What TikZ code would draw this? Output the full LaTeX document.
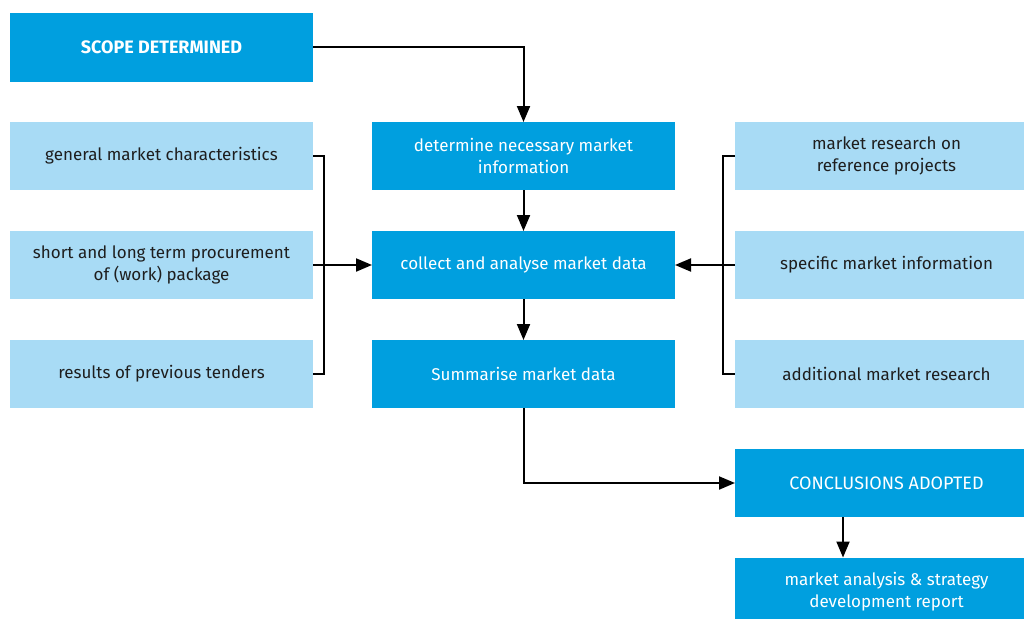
\documentclass[tikz,border=0pt]{standalone}
\usepackage{fontspec}
\setmainfont{Fira Sans}
\usetikzlibrary{arrows.meta}
\definecolor{dblue}{RGB}{0,159,223}
\definecolor{lblue}{RGB}{168,219,245}
\definecolor{dtext}{RGB}{30,30,30}
\tikzset{
  boxbase/.style={minimum width=303pt, minimum height=68pt, inner sep=0pt, outer sep=0pt, align=center, font=\fontsize{17}{22}\selectfont},
  darkbox/.style={boxbase, fill=dblue, text=white},
  lightbox/.style={boxbase, fill=lblue, text=dtext},
  conn/.style={line width=2pt, black},
  arr/.style={conn, -{Triangle[width=13pt,length=16pt]}},
}
\begin{document}
\begin{tikzpicture}[x=1pt,y=-1pt]
\useasboundingbox (0,0) rectangle (1024,618);
\clip (0,0) rectangle (1024,618);
\node[darkbox, font=\fontsize{18}{22}\selectfont\bfseries] (scope) at (161.5,47.5) {SCOPE DETERMINED};
\node[lightbox] (l1) at (161.5,156) {general market characteristics};
\node[lightbox] (l2) at (161.5,265) {short and long term procurement\\of (work) package};
\node[lightbox] (l3) at (161.5,374) {results of previous tenders};
\node[darkbox] (c1) at (523.5,156) {determine necessary market\\information};
\node[darkbox] (c2) at (523.5,265) {collect and analyse market data};
\node[darkbox] (c3) at (523.5,374) {Summarise market data};
\node[lightbox] (r1) at (886.5,156) {market research on\\reference projects};
\node[lightbox] (r2) at (886.5,265) {specific market information};
\node[lightbox] (r3) at (886.5,374) {additional market research};
\node[darkbox, font=\fontsize{18}{22}\selectfont] (concl) at (886.5,483) {CONCLUSIONS ADOPTED};
\node[darkbox] (report) at (886.5,591.5) {market analysis \& strategy\\development report};
\coordinate (lbt) at (324,156);
\coordinate (lbb) at (324,374);
\coordinate (rbt) at (723,156);
\coordinate (rbb) at (723,374);
\draw[arr] (scope.east) -| (c1.north);
\draw[conn] (l1.east) -- (lbt) -- (lbb) -- (l3.east);
\draw[arr] (l2.east) -- (c2.west);
\draw[conn] (r1.west) -- (rbt) -- (rbb) -- (r3.west);
\draw[arr] (r2.west) -- (c2.east);
\draw[arr] (c1.south) -- (c2.north);
\draw[arr] (c2.south) -- (c3.north);
\draw[arr] (c3.south) |- (concl.west);
\draw[arr] ([xshift=-43.5pt]concl.south) -- ([xshift=-43.5pt]report.north);
\end{tikzpicture}
\end{document}
